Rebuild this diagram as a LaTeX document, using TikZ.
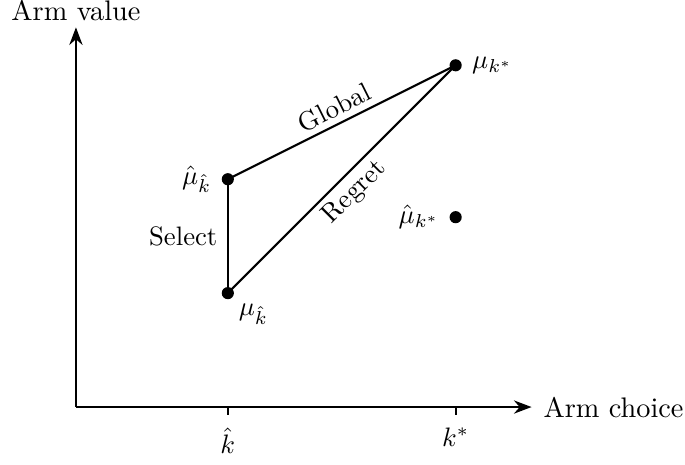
\documentclass[tikz,border=0pt]{standalone}
\usepackage{amsmath, amssymb}
\usetikzlibrary{positioning, calc, arrows.meta}

\begin{document}
\begin{tikzpicture}[
  every node/.append style={inner sep=2.5pt, outer sep=0pt},
  pt/.style={circle, fill=black, minimum size=0.16cm, inner sep=0pt},
  axis/.style={-Stealth, thick},
  seg/.style={thick},
  tick/.style={thick},
  lbl/.style={font=\normalsize},
  axlbl/.style={font=\fontsize{10.6}{13}\selectfont},
]
\useasboundingbox (-1.0,-0.76) rectangle (8.02,5.36);

%% ─── axes ───────────────────────────────────────────────────────────────────
\coordinate (o) at (0,0);
\coordinate (xe) at (6,0);
\coordinate (ye) at (0,5);
\draw[axis] (o) -- (xe);
\draw[axis] (o) -- (ye);
\node[axlbl, above=0.0cm of ye] (ylab) {Arm value};
\node[axlbl, right=0.07cm of xe] (xlab) {Arm choice};

%% ─── ticks ──────────────────────────────────────────────────────────────────
\coordinate (t1) at (2,0);
\coordinate (t2) at (5,0);
\coordinate (t1b) at (2,-0.11);
\coordinate (t2b) at (5,-0.11);
\draw[tick] (t1) -- (t1b);
\draw[tick] (t2) -- (t2b);
\node[lbl, below=0.08cm of t1b] (khat) {$\hat{k}$};
\node[lbl, below=0.08cm of t2b] (kstar) {$k^{*}$};

%% ─── arm points ─────────────────────────────────────────────────────────────
\node[pt] (muhk)  at (2, 3.0) {};
\node[pt] (mukh)  at (2, 1.5) {};
\node[pt] (muks)  at (5, 4.5) {};
\node[pt] (muhks) at (5, 2.5) {};
\node[lbl, left=0.05cm of muhk]        {$\hat{\mu}_{\hat{k}}$};
\node[lbl, below right=0.0cm and 0.0cm of mukh] {$\mu_{\hat{k}}$};
\node[lbl, right=0.05cm of muks]       {$\mu_{k^{*}}$};
\node[lbl, left=0.05cm of muhks]       {$\hat{\mu}_{k^{*}}$};

%% ─── connectors ─────────────────────────────────────────────────────────────
\draw[seg] (muhk.center) -- node[lbl, left=0.05cm] {Select} (mukh.center);
\draw[seg] (muhk.center) -- node[lbl, above, sloped] {Global} (muks.center);
\draw[seg] (mukh.center) -- node[lbl, below, sloped] {Regret} (muks.center);

\end{tikzpicture}
\end{document}
